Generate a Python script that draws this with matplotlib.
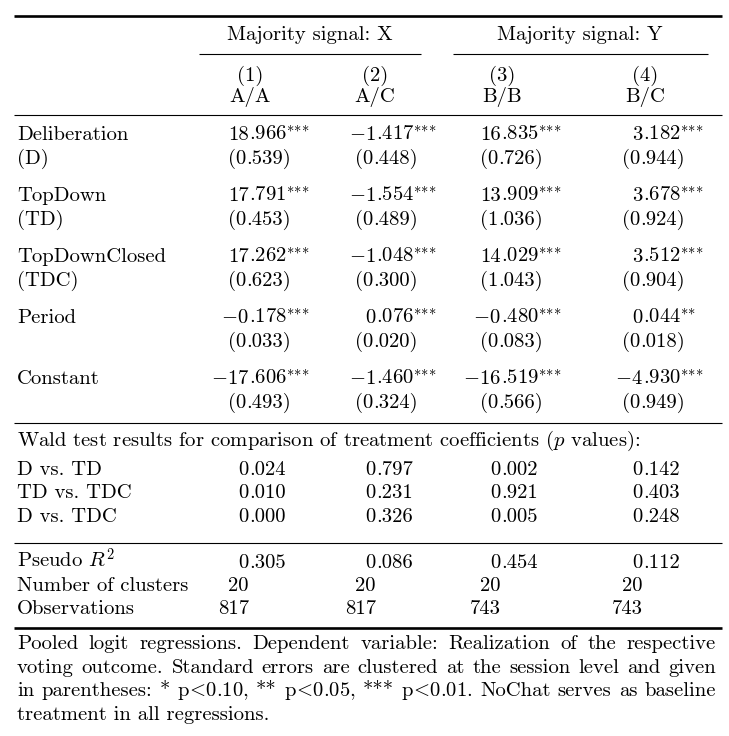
import matplotlib
matplotlib.use('Agg')
import matplotlib.pyplot as plt

# LaTeX-looking table: Computer Modern for text and math
plt.rcParams['font.family'] = ['cmr10']
plt.rcParams['mathtext.fontset'] = 'cm'
plt.rcParams['axes.unicode_minus'] = False

W, H = 729, 736
FS = 14.9

# ---- table content ----
groups      = ['Majority signal: X', 'Majority signal: Y']
col_nums    = ['(1)', '(2)', '(3)', '(4)']
col_names   = ['A/A', 'A/C', 'B/B', 'B/C']

var_names   = ['Deliberation', 'TopDown', 'TopDownClosed', 'Period', 'Constant']
var_abbr    = ['(D)', '(TD)', '(TDC)', '', '']
coefs = [
    [18.966, -1.417, 16.835, 3.182],
    [17.791, -1.554, 13.909, 3.678],
    [17.262, -1.048, 14.029, 3.512],
    [-0.178, 0.076, -0.480, 0.044],
    [-17.606, -1.460, -16.519, -4.930],
]
stars = [
    ['***', '***', '***', '***'],
    ['***', '***', '***', '***'],
    ['***', '***', '***', '***'],
    ['***', '***', '***', '**'],
    ['***', '***', '***', '***'],
]
ses = [
    [0.539, 0.448, 0.726, 0.944],
    [0.453, 0.489, 1.036, 0.924],
    [0.623, 0.300, 1.043, 0.904],
    [0.033, 0.020, 0.083, 0.018],
    [0.493, 0.324, 0.566, 0.949],
]

wald_title  = 'Wald test results for comparison of treatment coefficients ($p$ values):'
wald_labels = ['D vs. TD', 'TD vs. TDC', 'D vs. TDC']
wald_p = [
    [0.024, 0.797, 0.002, 0.142],
    [0.010, 0.231, 0.921, 0.403],
    [0.000, 0.326, 0.005, 0.248],
]

stat_labels  = ['Pseudo $R^2$', 'Number of clusters', 'Observations']
pseudo_r2    = [0.305, 0.086, 0.454, 0.112]
clusters     = [20, 20, 20, 20]
observations = [817, 817, 743, 743]

LT = r'$\!<\!$'
note_lines = [
    'Pooled logit regressions.  Dependent variable:  Realization of the respective',
    'voting outcome. Standard errors are clustered at the session level and given',
    f'in parentheses: * p{LT}0.10, ** p{LT}0.05, *** p{LT}0.01. NoChat serves as baseline',
    'treatment in all regressions.',
]

# ---- layout (pixels) ----
X_LEFT, X_RIGHT = 14, 722
X_LABEL = 17
dec_x = [249, 376, 501, 643]
head_x = [250, 375, 502, 645]
SE_SHIFT = -3
BASE = 5  # text center -> baseline offset

fig = plt.figure(figsize=(W / 100, H / 100), dpi=100)
ax = fig.add_axes([0, 0, 1, 1])
ax.set_xlim(0, W)
ax.set_ylim(H, 0)
ax.axis('off')


def txt(x, y, s, ha='left'):
    return ax.text(x, y + BASE, s, ha=ha, va='baseline', fontsize=FS)


def fmt(v, nd=3):
    s = f'{v:.{nd}f}'
    return s.replace('-', '$-$')


def dec(xd, y, s, sup=''):
    # decimal-point alignment like dcolumn
    if '.' in s:
        left, right = s.split('.', 1)
        right = '.' + right
    else:
        left, right = s, ''
    txt(xd, y, left, ha='right')
    if sup:
        # braces keep mathtext from spacing the stars as binary operators
        right += '$^{' + ''.join('{*}' for _ in sup) + '}$'
    if right:
        txt(xd, y, right)


def rule(y, lw, x0=X_LEFT, x1=X_RIGHT):
    ax.plot([x0, x1], [y, y], color='black', lw=lw, solid_capstyle='butt')


# rules
rule(16, 1.9)
rule(54, 0.8, 199, 421)
rule(54, 0.8, 453, 708)
rule(115, 0.8)
rule(423, 0.8)
rule(543, 0.8)
rule(628, 1.9)

# header
txt(310, 35, groups[0], ha='center')
txt(580, 35, groups[1], ha='center')
for j in range(4):
    txt(head_x[j], 76, col_nums[j], ha='center')
    txt(head_x[j], 97, col_names[j], ha='center')

# coefficients
row_y = [135, 196, 257, 318, 379]
for i, y in enumerate(row_y):
    txt(X_LABEL, y, var_names[i])
    if var_abbr[i]:
        txt(X_LABEL, y + 24, var_abbr[i])
    for j in range(4):
        dec(dec_x[j], y, fmt(coefs[i][j]), stars[i][j])
        dec(dec_x[j] + SE_SHIFT, y + 24, '(' + fmt(ses[i][j]) + ')')

# wald tests
txt(X_LABEL, 441, wald_title)
wald_y = [470, 493, 517]
for i, y in enumerate(wald_y):
    txt(X_LABEL, y, wald_labels[i])
    for j in range(4):
        dec(dec_x[j], y, fmt(wald_p[i][j]))

# stats
stat_y = [563, 586, 609]
stat_vals = [[fmt(v) for v in pseudo_r2], [str(v) for v in clusters],
             [str(v) for v in observations]]
for i, y in enumerate(stat_y):
    txt(X_LABEL, y, stat_labels[i])
    for j in range(4):
        dec(dec_x[j], y, stat_vals[i][j])

# note, justified like LaTeX paragraph
renderer = fig.canvas.get_renderer()
note_y = [644, 668, 691, 715]
note_right = 716
for k, line in enumerate(note_lines):
    if k == len(note_lines) - 1:
        txt(X_LABEL, note_y[k], line)
        continue
    words = line.split()
    objs = [txt(X_LABEL, note_y[k], w) for w in words]
    widths = [o.get_window_extent(renderer).width for o in objs]
    gap = (note_right - X_LABEL - sum(widths)) / (len(words) - 1)
    x = X_LABEL
    for o, w in zip(objs, widths):
        o.set_x(x)
        x += w + gap

fig.savefig('out.png', dpi=100, facecolor='white')
